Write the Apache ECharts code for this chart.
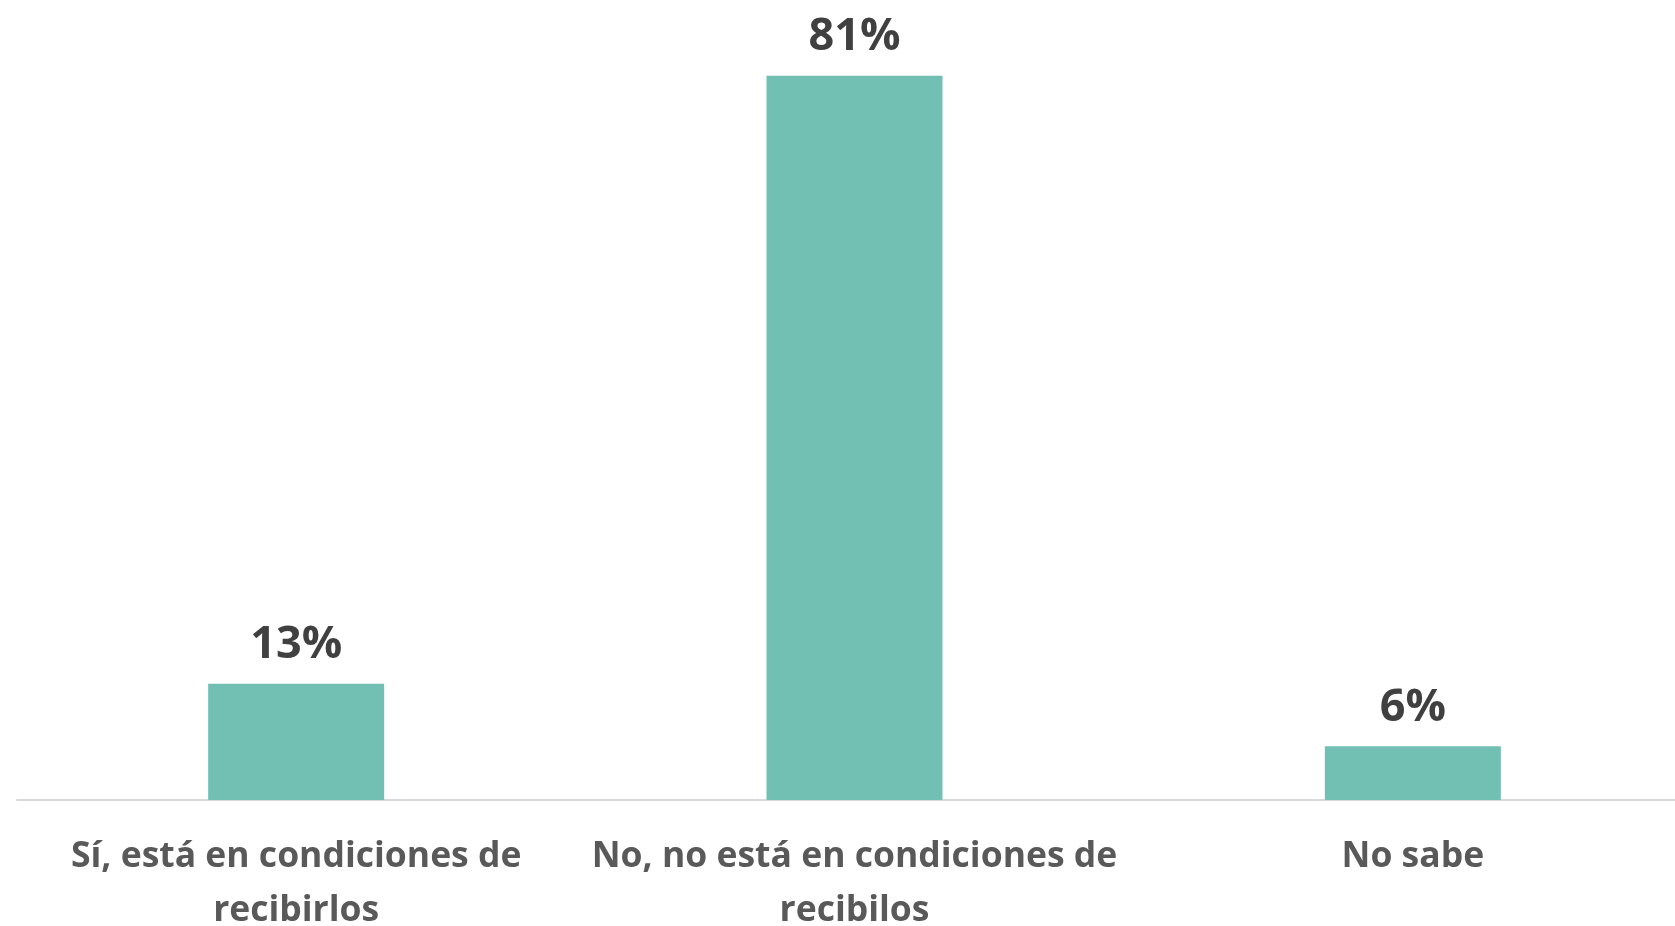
<!DOCTYPE html>
<html>
<head>
<meta charset="utf-8">
<script src="https://cdn.jsdelivr.net/npm/echarts@6/dist/echarts.min.js"></script>
<style>
html,body{margin:0;padding:0;background:#fff;}
#chart{width:1675px;height:926px;}
</style>
</head>
<body>
<div id="chart"></div>
<script>
const categories = ["Sí, está en condiciones de\nrecibirlos", "No, no está en condiciones de\nrecibilos", "No sabe"];
const values = [13, 81, 6];

const chart = echarts.init(document.getElementById('chart'), null, {renderer: 'canvas'});
chart.setOption({
  animation: false,
  grid: {left: 17, right: -17, top: 40, bottom: 126, containLabel: false, outerBoundsMode: 'none'},
  xAxis: {
    type: 'category',
    data: categories,
    axisLine: {show: true, lineStyle: {color: '#d9d9d9', width: 2}},
    axisTick: {show: false},
    axisLabel: {
      color: '#595959', fontFamily: 'Open Sans', fontWeight: 'bold', fontSize: 35.5,
      lineHeight: 54, margin: 30, interval: 0
    }
  },
  yAxis: {
    type: 'value', min: 0, max: 85, show: false,
    splitLine: {show: false}
  },
  series: [{
    type: 'bar',
    data: values,
    barWidth: 176,
    itemStyle: {color: '#71c0b3'},
    label: {
      show: true, position: 'top', distance: 16,
      formatter: '{c}%', color: '#404040',
      fontFamily: 'Open Sans', fontWeight: 'bold', fontSize: 45
    }
  }]
});
</script>
</body>
</html>
